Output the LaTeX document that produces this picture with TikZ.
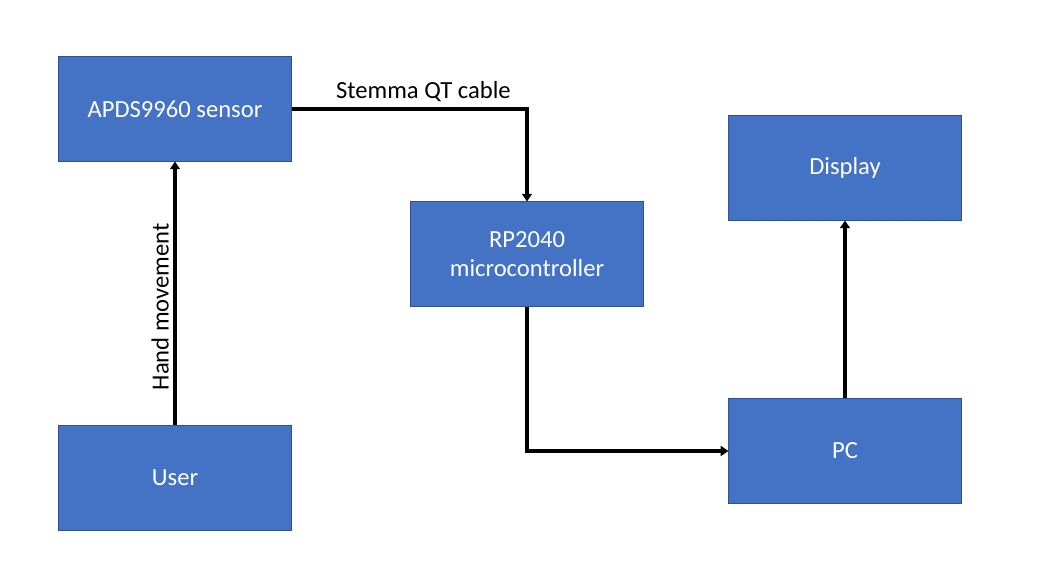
\documentclass[tikz,border=0pt]{standalone}
\usepackage{fontspec}
\setmainfont{Carlito}
\usepackage{xcolor}
\usetikzlibrary{shapes, arrows.meta}
\definecolor{boxblue}{HTML}{4472C4}
\definecolor{boxedge}{HTML}{2F528F}
\tikzstyle{block} = [rectangle, draw=boxedge, line width=0.7pt, fill=boxblue, text=white, text centered, align=center, minimum width=5.8cm, minimum height=2.6cm, font=\fontsize{17.5}{21}\selectfont]
\tikzstyle{arrow} = [line width=2.2pt,-{Triangle[length=5.5pt,width=7pt]}]

\begin{document}
\begin{tikzpicture}[x=0.025cm, y=-0.025cm]
    \useasboundingbox (0,0) rectangle (1048,571);
    \node(sensor)[block] at (175,109){APDS9960 sensor};
    \node(user)[block] at (175,478){User};
    \node(rp)[block] at (527,254){RP2040\\microcontroller};
    \node(display)[block] at (845,168){Display};
    \node(pc)[block] at (845,451){PC};
    \draw [arrow] (user) -- node[pos=0.45, rotate=90, anchor=south, font=\fontsize{17.5}{21}\selectfont]{Hand movement}(sensor);
    \draw [arrow] (sensor) -| node[pos=0.28, anchor=south, yshift=1pt, font=\fontsize{17.5}{21}\selectfont]{Stemma QT cable}(rp);
    \draw [arrow] (rp) |- (pc);
    \draw [arrow] (pc) -- (display);
\end{tikzpicture}
\end{document}
